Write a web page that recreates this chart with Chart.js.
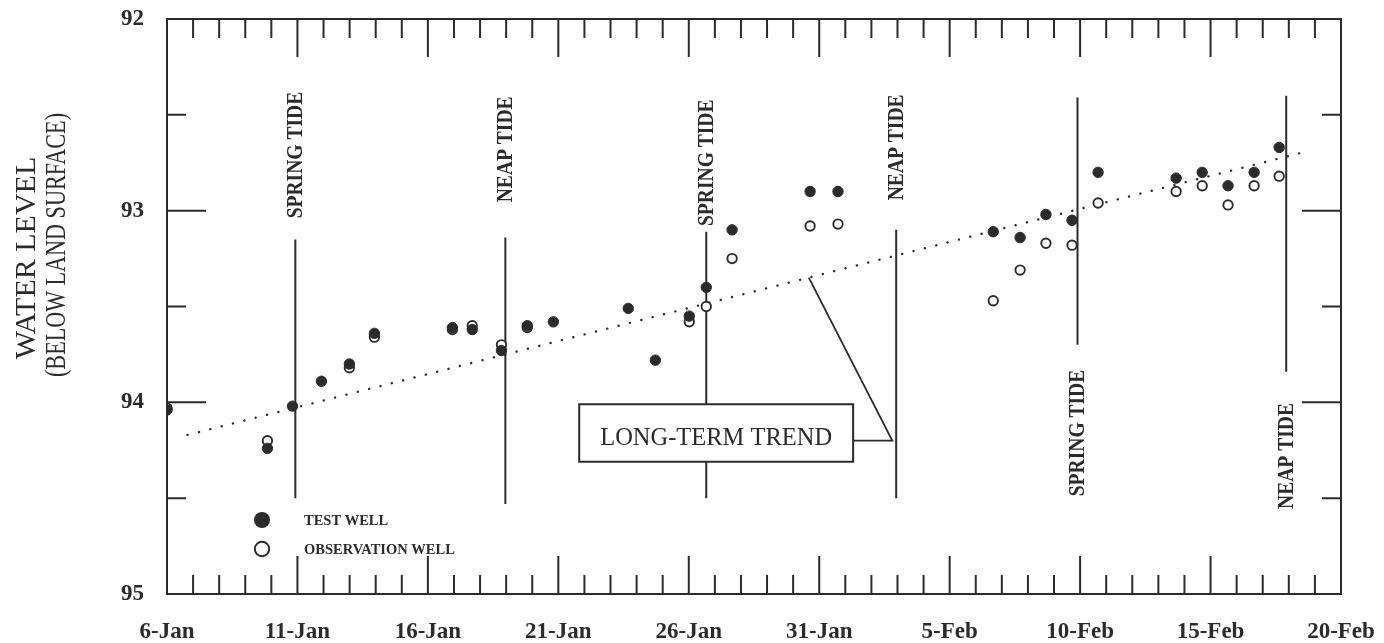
<!DOCTYPE html>
<html>
<head>
<meta charset="utf-8">
<script src="https://cdn.jsdelivr.net/npm/chart.js@4.4.1/dist/chart.umd.min.js"></script>
<style>
  html, body { margin: 0; padding: 0; background: #fff; }
  #wrap { width: 1384px; height: 643px; position: relative; }
</style>
</head>
<body>
<div id="wrap"><canvas id="c"></canvas></div>
<script>
// Sampling times, in days after 6-Jan
const sampleDays = [0, 3.85, 4.81, 5.92, 6.99, 7.95, 10.94, 11.70, 12.82, 13.81, 14.81, 17.68, 18.72,
  20.02, 20.67, 21.66, 24.65, 25.72, 31.67, 32.70, 33.69, 34.69, 35.69, 38.68, 39.68, 40.67, 41.67, 42.63];
// Water level below land surface
const testWell = [94.04, 94.24, 94.02, 93.89, 93.80, 93.64, 93.61, 93.62, 93.73, 93.60, 93.58, 93.51, 93.78,
  93.55, 93.40, 93.10, 92.90, 92.90, 93.11, 93.14, 93.02, 93.05, 92.80, 92.83, 92.80, 92.87, 92.80, 92.67];
const obsWell = [94.03, 94.20, null, null, 93.82, 93.66, 93.62, 93.60, 93.70, 93.61, null, null, null,
  93.58, 93.50, 93.25, 93.08, 93.07, 93.47, 93.31, 93.17, 93.18, 92.96, 92.90, 92.87, 92.97, 92.87, 92.82];

const xTickLabels = ['6-Jan', '11-Jan', '16-Jan', '21-Jan', '26-Jan', '31-Jan', '5-Feb', '10-Feb', '15-Feb', '20-Feb'];
const yTickLabels = ['92', '93', '94', '95'];

// Long-term trend end points
const trendDays = [0.79, 43.43];
const trendLevels = [94.17, 92.70];

// Tide markers
const tideDays = [4.92, 12.97, 20.67, 27.95, 34.9, 42.9];
const tideNames = ['SPRING TIDE', 'NEAP TIDE', 'SPRING TIDE', 'NEAP TIDE', 'SPRING TIDE', 'NEAP TIDE'];
const tideLineTop = [93.15, 93.14, 93.11, 93.10, 92.41, 92.40];
const tideLineBottom = [94.50, 94.53, 94.50, 94.50, 93.70, 93.84];
const tideLabelLevel = [92.71, 92.68, 92.75, 92.67, 94.16, 94.28];

// Trend call-out box and its leader
const calloutText = 'LONG-TERM TREND';
const calloutDays = [15.8, 26.3];
const calloutLevels = [94.01, 94.31];
const leaderElbow = { day: 27.8, level: 94.20 };
const leaderTargetDay = 24.6;

const INK = '#2b2b2b';
const SERIF = '"Liberation Serif", "DejaVu Serif", serif';

function trendAt(day) {
  const t = (day - trendDays[0]) / (trendDays[1] - trendDays[0]);
  return trendLevels[0] + t * (trendLevels[1] - trendLevels[0]);
}

const datasets = [
  {
    label: 'TEST WELL',
    data: sampleDays.map((d, i) => ({ x: d, y: testWell[i] })),
    pointRadius: 5.2, pointHoverRadius: 5.2,
    pointBackgroundColor: INK, pointBorderColor: INK, pointBorderWidth: 1,
    showLine: false
  },
  {
    label: 'OBSERVATION WELL',
    data: sampleDays.map((d, i) => ({ x: d, y: obsWell[i] })),
    pointRadius: 4.7, pointHoverRadius: 4.7,
    pointBackgroundColor: '#fff', pointBorderColor: INK, pointBorderWidth: 1.9,
    showLine: false
  },
  {
    label: 'trend',
    data: trendDays.map((d, i) => ({ x: d, y: trendLevels[i] })),
    showLine: true, pointRadius: 0,
    borderColor: INK, borderWidth: 2.4,
    borderDash: [0.1, 11.6], borderCapStyle: 'round'
  }
];
tideDays.forEach((d, i) => {
  datasets.push({
    label: 'tide' + i,
    data: [{ x: d, y: tideLineTop[i] }, { x: d, y: tideLineBottom[i] }],
    showLine: true, pointRadius: 0,
    borderColor: INK, borderWidth: 2
  });
});

// Axis sizes are fixed so that the frame sits where the layout padding puts it
function fixAxis(size, key) {
  return s => {
    s[key] = size;
    s.paddingTop = 0; s.paddingBottom = 0; s.paddingLeft = 0; s.paddingRight = 0;
  };
}

const decorations = {
  id: 'decorations',
  afterDatasetsDraw(chart) {
    const { ctx, chartArea: a, scales: { x, y } } = chart;
    ctx.save();
    ctx.strokeStyle = INK;
    ctx.fillStyle = INK;
    ctx.lineCap = 'butt';

    // frame
    ctx.lineWidth = 2;
    ctx.strokeRect(a.left, a.top, a.right - a.left, a.bottom - a.top);

    // inward ticks on all four sides
    ctx.beginPath();
    for (let d = 1; d < 45; d++) {
      const len = d % 5 === 0 ? 38 : 19;
      const px = x.getPixelForValue(d);
      ctx.moveTo(px, a.top); ctx.lineTo(px, a.top + len);
      ctx.moveTo(px, a.bottom); ctx.lineTo(px, a.bottom - len);
    }
    for (let v = 92.5; v < 95; v += 0.5) {
      const len = Number.isInteger(v) ? 39 : 19;
      const py = y.getPixelForValue(v);
      ctx.moveTo(a.left, py); ctx.lineTo(a.left + len, py);
      ctx.moveTo(a.right, py); ctx.lineTo(a.right - len, py);
    }
    ctx.stroke();

    // tide labels, rotated
    ctx.font = 'bold 23px ' + SERIF;
    ctx.textAlign = 'center';
    ctx.textBaseline = 'middle';
    tideDays.forEach((d, i) => {
      const px = x.getPixelForValue(d);
      const py = y.getPixelForValue(tideLabelLevel[i]);
      ctx.save();
      ctx.translate(px, py);
      ctx.rotate(-Math.PI / 2);
      const w = ctx.measureText(tideNames[i]).width * 0.85;
      ctx.fillText(tideNames[i], 0, 1, w);
      ctx.restore();
    });

    // call-out box
    const bx0 = x.getPixelForValue(calloutDays[0]);
    const bx1 = x.getPixelForValue(calloutDays[1]);
    const by0 = y.getPixelForValue(calloutLevels[0]);
    const by1 = y.getPixelForValue(calloutLevels[1]);
    ctx.fillStyle = '#fff';
    ctx.fillRect(bx0, by0, bx1 - bx0, by1 - by0);
    ctx.lineWidth = 2;
    ctx.strokeRect(bx0, by0, bx1 - bx0, by1 - by0);
    ctx.fillStyle = INK;
    ctx.font = '25px ' + SERIF;
    ctx.textAlign = 'center';
    ctx.textBaseline = 'alphabetic';
    ctx.fillText(calloutText, (bx0 + bx1) / 2, by0 + (by1 - by0) * 0.71, 232);

    // leader from box to the trend line
    const ex = x.getPixelForValue(leaderElbow.day);
    const ey = y.getPixelForValue(leaderElbow.level);
    ctx.lineWidth = 1.8;
    ctx.beginPath();
    ctx.moveTo(bx1, ey);
    ctx.lineTo(ex, ey);
    ctx.lineTo(x.getPixelForValue(leaderTargetDay), y.getPixelForValue(trendAt(leaderTargetDay)));
    ctx.stroke();

    // legend
    const lx = 262, ly = [520, 549];
    ctx.beginPath();
    ctx.arc(lx, ly[0], 8, 0, Math.PI * 2);
    ctx.fill();
    ctx.beginPath();
    ctx.arc(lx, ly[1], 7.2, 0, Math.PI * 2);
    ctx.lineWidth = 2;
    ctx.stroke();
    ctx.font = 'bold 14.5px ' + SERIF;
    ctx.textAlign = 'left';
    ctx.textBaseline = 'middle';
    ctx.fillText(datasets[0].label, 304, ly[0] + 1);
    ctx.fillText(datasets[1].label, 304, ly[1] + 1);

    // y-axis title
    ctx.save();
    ctx.translate(27, 258);
    ctx.rotate(-Math.PI / 2);
    ctx.textAlign = 'center';
    ctx.textBaseline = 'middle';
    ctx.font = '30px ' + SERIF;
    ctx.fillText('WATER LEVEL', 0, 0, 212);
    ctx.restore();
    ctx.save();
    ctx.translate(57, 245);
    ctx.rotate(-Math.PI / 2);
    ctx.textAlign = 'center';
    ctx.textBaseline = 'middle';
    ctx.font = '29px ' + SERIF;
    ctx.fillText('(BELOW LAND SURFACE)', 0, 0, 264);
    ctx.restore();

    ctx.restore();
  }
};

new Chart(document.getElementById('c'), {
  type: 'scatter',
  data: { datasets },
  plugins: [decorations],
  options: {
    responsive: true,
    maintainAspectRatio: false,
    animation: false,
    events: [],
    layout: { padding: { left: 0, right: 43, top: 19, bottom: 0 } },
    plugins: { legend: { display: false }, tooltip: { enabled: false } },
    scales: {
      x: {
        type: 'linear', min: 0, max: 45,
        grid: { display: false, drawTicks: false },
        border: { display: false },
        afterFit: fixAxis(49, 'height'),
        ticks: {
          stepSize: 5, padding: 24, color: INK,
          font: { family: SERIF, size: 23, weight: 'bold' },
          maxRotation: 0, autoSkip: false,
          callback: v => xTickLabels[Math.round(v / 5)]
        }
      },
      y: {
        type: 'linear', min: 92, max: 95, reverse: true,
        grid: { display: false, drawTicks: false },
        border: { display: false },
        afterFit: fixAxis(167, 'width'),
        ticks: {
          stepSize: 1, padding: 23, color: INK,
          font: { family: SERIF, size: 23, weight: 'bold' },
          callback: v => yTickLabels[Math.round(v - 92)]
        }
      }
    }
  }
});
</script>
</body>
</html>
